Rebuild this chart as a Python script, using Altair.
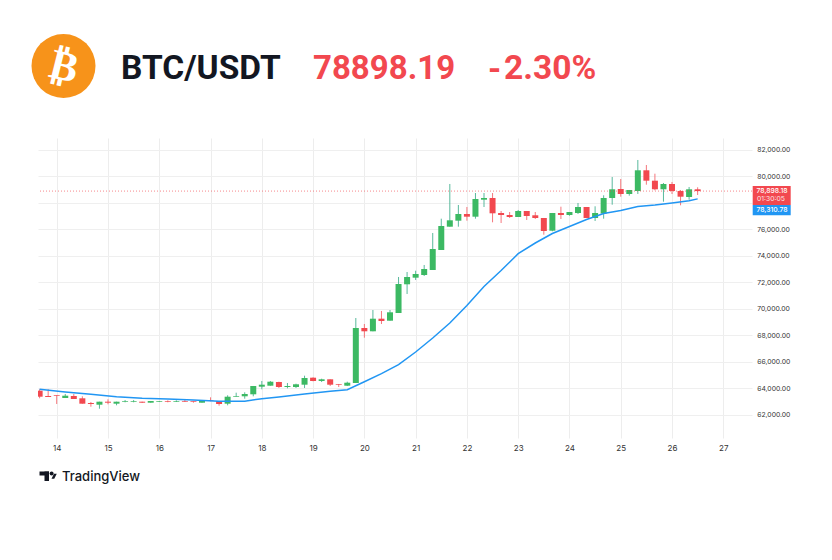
import altair as alt
import pandas as pd

# 4-hour candles, values
opens = [63834,63434,63487,63283,63434,63260,62906,62777,63004,62853,63004,62981,63004,62928,63004,63057,63004,63057,63034,62928,
         63109,63057,62853,63381,63411,63562,64136,64211,64491,64113,64113,64287,64815,64566,64694,64340,64211,64415,68566,68317,
         69268,69117,69698,71864,72362,72566,72943,74453,76211,76664,77170,76966,78249,78377,77245,77094,76943,77396,77072,76868,
         75909,77245,77094,77245,77698,76868,77200,78377,79057,78679,78905,80468,79683,79034,79434,78905,78452,79034]
highs = [63940,63940,63487,63585,63585,63411,62981,63004,63185,63004,63132,63132,63004,63057,63057,63109,63109,63132,63034,63109,
         63335,63057,63487,63683,63713,64189,64566,64566,64513,64415,64362,64966,64845,64740,64694,64340,64513,69320,68868,69924,
         69849,69924,72415,72792,72890,73321,75736,76815,79434,77849,77698,78754,78754,78754,77396,77320,77472,77396,77320,76868,
         77245,77720,77320,78000,77698,77750,78580,79962,79811,78981,81245,80867,80211,79509,79585,78981,79207,79185]
lows = [63260,63358,62830,63283,63208,62853,62626,62475,62807,62732,62958,62958,62906,62928,62981,62958,62981,62981,62928,62928,
        63034,62702,62732,63381,63230,63411,63940,64211,64038,64015,64038,64038,64543,64491,64189,64113,64189,64415,67834,68317,
        68868,69117,69698,71132,72189,72490,72943,74453,76211,76211,76664,76815,77698,76543,76490,76868,76943,76717,76792,75607,
        75864,76792,77041,77170,76868,76641,76815,77871,78475,78551,78679,79381,78958,78098,78679,77826,78249,78604]
closes = [63381,63358,63434,63456,63208,62853,62830,63004,62928,63004,63057,63034,62928,63057,63057,63004,63057,63004,62981,63109,
          63057,62830,63381,63434,63585,64189,64287,64513,64113,64189,64317,64792,64566,64694,64287,64287,64438,68566,68317,69268,
          69094,69751,71887,72415,72641,73019,74528,76264,76694,77170,76966,78302,78377,77222,77094,76943,77396,77019,76868,75887,
          77245,77094,77320,77698,76868,77245,78377,79034,78679,78981,80468,79683,79034,79434,78905,78475,79034,78898]

# moving-average line: candle index and value
ma_index = [0,3,6,9,12,15,18,21,24,26,28,31,34,36,38,40,42,44,46,48,50,52,54,56,58,60,62,64,66,68,70,72,74,76,77]
ma_values = [63940,63743,63562,63381,63260,63208,63132,63034,63042,63230,63358,63585,63789,63909,64513,65117,65796,66755,67811,68943,
             70264,71698,72906,74173,74981,75698,76226,76755,77208,77434,77736,77849,78000,78173,78311]

day_ticks = [14,15,16,17,18,19,20,21,22,23,24,25,26,27]
price_ticks = [62000,64000,66000,68000,70000,72000,74000,76000,78000,80000,82000]
last_price = 78898.18

START_DAY = 13 + 2/3
GREEN, RED, BLUE = "#3cb963", "#f2484f", "#2196f3"
W, H, L, T = 714, 300, 30, 130
FONT = "Inter"
HEAD = "Roboto"

df = pd.DataFrame({"i": range(len(opens)), "o": opens, "h": highs, "l": lows, "c": closes})
df["t"] = START_DAY + df["i"] / 6
df["dir"] = ["up" if c >= o else "down" for o, c in zip(opens, closes)]
ma = pd.DataFrame({"t": [START_DAY + i / 6 for i in ma_index], "v": ma_values})
price_df = pd.DataFrame({"p": [last_price]})

x_scale = alt.Scale(domain=[13.635, 27.56], nice=False, padding=0)
y_scale = alt.Scale(domain=[60264, 82905], nice=False, zero=False)
x_axis = alt.Axis(values=day_ticks, format="d", title=None, orient="bottom", domain=False, ticks=False,
                  labelFont=FONT, labelFontSize=8, labelColor="#333333", labelPadding=6,
                  gridColor="#ededed", gridWidth=1, grid=True)
y_axis = alt.Axis(values=price_ticks, title=None, orient="right", domain=False, ticks=False,
                  labelExpr="datum.value == 78000 ? '' : format(datum.value, ',.2f')",
                  labelFont=FONT, labelFontSize=6.8, labelColor="#333333", labelPadding=4.7,
                  gridColor="#efefef", gridWidth=1, grid=True)

def X(f):
    return alt.X(f, scale=x_scale, axis=x_axis)
def Y(f):
    return alt.Y(f, scale=y_scale, axis=y_axis)

colors = alt.Color("dir:N", legend=None, scale=alt.Scale(domain=["up", "down"], range=[GREEN, RED]))
wick_colors = alt.Color("dir:N", legend=None, scale=alt.Scale(domain=["up", "down"], range=["#2fa885", "#f2555c"]))

wicks = alt.Chart(df).mark_rule(strokeWidth=1, opacity=0.8, clip=True).encode(x=X("t:Q"), y=Y("l:Q"), y2="h:Q", color=wick_colors)
bodies = alt.Chart(df).mark_bar(size=6, clip=True).encode(x=X("t:Q"), y=Y("o:Q"), y2="c:Q", color=colors)
ma_line = alt.Chart(ma).mark_line(color=BLUE, strokeWidth=1.5, clip=True).encode(x=X("t:Q"), y=Y("v:Q"))
price_line = alt.Chart(price_df).mark_rule(color="#f2484f", strokeWidth=1, strokeDash=[1, 2], opacity=0.65).encode(y=Y("p:Q"))

def px(xp):  # page x to chart x
    return xp - 8 - L
def py(yp):
    return yp - 8 - T

def text(s, xp, yp, size, color, weight=400, align="left", font=FONT, angle=None):
    kw = dict(text=s, fontSize=size, color=color, fontWeight=weight, align=align, baseline="middle", font=font)
    if angle is not None:
        kw["angle"] = angle
    return alt.Chart(pd.DataFrame({"a": [0]})).mark_text(**kw).encode(x=alt.value(px(xp)), y=alt.value(py(yp)))

def rect(x1, x2, y1, y2, color):
    return alt.Chart(pd.DataFrame({"a": [0]})).mark_rect(color=color).encode(
        x=alt.value(px(x1)), x2=alt.value(px(x2)), y=alt.value(py(y1)), y2=alt.value(py(y2)))

def symbol(xp, yp, size, color, shape="circle"):
    return alt.Chart(pd.DataFrame({"a": [0]})).mark_point(shape=shape, filled=True, size=size, color=color, opacity=1).encode(
        x=alt.value(px(xp)), y=alt.value(py(yp)))

header = [
    symbol(63.5, 66, 4096, "#f7931a"),
    text("₿", 64, 67, 42, "#ffffff", 700, "center", "DejaVu Sans", 14),
    text("BTC/USDT", 121, 68.5, 33.5, "#131722", 700, font=HEAD),
    text("78898.19", 313, 68.5, 33, "#f2484f", 700, font=HEAD),
    text("-", 488, 70, 33.5, "#f2484f", 700, font=HEAD),
    text("2.30%", 504, 68.5, 33.5, "#f2484f", 700, font=HEAD),
]
tags = [
    rect(752.7, 790.7, 186, 205, "#f2484f"),
    rect(752.7, 790.7, 205, 215.3, BLUE),
    text("78,898.18", 772, 191, 6.8, "#ffffff", 500, "center"),
    text("01:30:05", 771, 199.2, 6.8, "#fde4e4", 400, "center"),
    text("78,310.78", 772, 210.2, 6.8, "#ffffff", 500, "center"),
]
logo = [
    rect(39.5, 49, 471.5, 475.5, "#131722"),
    rect(44.5, 49, 471.5, 481, "#131722"),
    symbol(51.6, 473.5, 16, "#131722"),
    symbol(54, 476.2, 100, "#131722", "M 0.55 -0.5 L 0.05 0.5 L -0.5 0.5 L 0 -0.5 Z"),
    text("TradingView", 62, 476.5, 13, "#131722", 500),
]

chart = alt.layer(wicks, bodies, ma_line, price_line, *header, *tags, *logo).resolve_scale(color="independent").properties(
    width=W, height=H,
    padding={"left": L, "top": T, "right": 816 - L - W, "bottom": 544 - T - H},
    autosize=alt.AutoSizeParams(type="none"),
).configure_view(stroke=None)

chart.save("out.html", embed_options={"renderer": "svg", "actions": False})
